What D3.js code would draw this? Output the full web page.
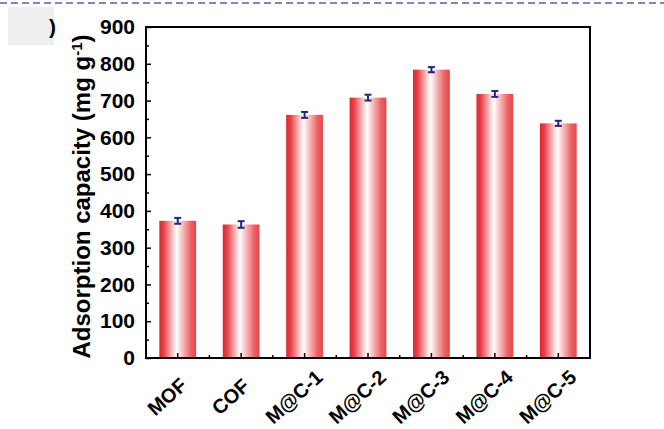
<!DOCTYPE html>
<html>
<head>
<meta charset="utf-8">
<script src="https://cdn.jsdelivr.net/npm/d3@7"></script>
<style>
  body { margin: 0; background: #fff; }
  svg { display: block; font-family: "Liberation Sans", Arial, sans-serif; }
</style>
</head>
<body>
<div id="chart"></div>
<script>
// data
var samples = ["MOF", "COF", "M@C-1", "M@C-2", "M@C-3", "M@C-4", "M@C-5"];
var capacity = [373, 363, 661, 708, 784, 718, 638];
var errors = [8, 9, 8, 8, 7, 8, 7];
var yTicks = [0, 100, 200, 300, 400, 500, 600, 700, 800, 900];
var yMinor = [50, 150, 250, 350, 450, 550, 650, 750, 850];

var width = 664, height = 429;
var margin = {left: 146, right: 74, top: 27, bottom: 71};

var svg = d3.select('#chart')
    .append('svg')
    .attr('width', width)
    .attr('height', height);

// bits of the page around the figure
svg.append('line')
    .attr('x1', 0).attr('x2', width)
    .attr('y1', 3).attr('y2', 3)
    .attr('stroke', '#5563a0')
    .attr('stroke-width', 1.5)
    .attr('stroke-dasharray', '7,4');
svg.append('rect')
    .attr('x', 8).attr('y', 7)
    .attr('width', 46).attr('height', 38)
    .attr('fill', '#eeeeee');
svg.append('text')
    .attr('x', 49).attr('y', 34)
    .attr('font-size', 21)
    .attr('font-weight', 'bold')
    .text(')');

var defs = svg.append('defs');
var grad = defs.append('linearGradient')
    .attr('id', 'barGrad')
    .attr('x1', 0).attr('x2', 1).attr('y1', 0).attr('y2', 0);
[[0, '#e2232b'], [0.12, '#e5424a'], [0.47, '#ffffff'], [0.86, '#ec6063'], [1, '#e6464b']]
    .forEach(function(s) {
        grad.append('stop').attr('offset', s[0]).attr('stop-color', s[1]);
    });

var x = d3.scaleBand()
    .domain(samples)
    .range([margin.left, width - margin.right])
    .paddingInner(0.42)
    .paddingOuter(0.21);

var y = d3.scaleLinear()
    .domain([0, 900])
    .range([height - margin.bottom, margin.top]);

var data = samples.map(function(s, i) {
    return {name: s, value: capacity[i], err: errors[i]};
});

// bars
svg.append('g')
    .selectAll('rect')
    .data(data)
    .enter()
    .append('rect')
    .attr('x', function(d) { return x(d.name); })
    .attr('y', function(d) { return y(d.value); })
    .attr('width', x.bandwidth())
    .attr('height', function(d) { return y(0) - y(d.value); })
    .attr('fill', 'url(#barGrad)');

// error bars
var eb = svg.append('g')
    .attr('stroke', '#1f2a7a')
    .attr('stroke-width', 2);
data.forEach(function(d) {
    var cx = x(d.name) + x.bandwidth() / 2;
    eb.append('line')
        .attr('x1', cx).attr('x2', cx)
        .attr('y1', y(d.value - d.err)).attr('y2', y(d.value + d.err));
    eb.append('line')
        .attr('x1', cx - 3.5).attr('x2', cx + 3.5)
        .attr('y1', y(d.value + d.err)).attr('y2', y(d.value + d.err));
    eb.append('line')
        .attr('x1', cx - 3.5).attr('x2', cx + 3.5)
        .attr('y1', y(d.value - d.err)).attr('y2', y(d.value - d.err));
});

// y axis, ticks pointing inwards
var yAxis = d3.axisLeft(y)
    .tickValues(yTicks)
    .tickSizeInner(-5)
    .tickSizeOuter(0)
    .tickPadding(11);
var gy = svg.append('g')
    .attr('transform', 'translate(' + margin.left + ',0)')
    .call(yAxis);
gy.select('.domain').remove();
gy.selectAll('line').attr('stroke', '#000').attr('stroke-width', 1.5);
gy.selectAll('text')
    .attr('font-size', 21)
    .attr('font-weight', 'bold')
    .attr('fill', '#000')
    .attr('font-family', '"Liberation Sans", Arial, sans-serif');

var gyMinor = svg.append('g')
    .attr('transform', 'translate(' + margin.left + ',0)')
    .call(d3.axisLeft(y).tickValues(yMinor).tickSizeInner(-3).tickSizeOuter(0).tickFormat(''));
gyMinor.select('.domain').remove();
gyMinor.selectAll('line').attr('stroke', '#000').attr('stroke-width', 1.5);

// x axis, ticks pointing up
var xAxis = d3.axisBottom(x)
    .tickSizeInner(-5)
    .tickSizeOuter(0)
    .tickFormat('');
var gx = svg.append('g')
    .attr('transform', 'translate(0,' + y(0) + ')')
    .call(xAxis);
gx.select('.domain').remove();
gx.selectAll('line').attr('stroke', '#000').attr('stroke-width', 1.5);

// minor x ticks between bars
svg.append('g')
    .selectAll('line')
    .data(samples.slice(0, -1))
    .enter()
    .append('line')
    .attr('x1', function(d) { return x(d) + x.bandwidth() / 2 + x.step() / 2; })
    .attr('x2', function(d) { return x(d) + x.bandwidth() / 2 + x.step() / 2; })
    .attr('y1', y(0))
    .attr('y2', y(0) - 3)
    .attr('stroke', '#000')
    .attr('stroke-width', 1.5);

// rotated category labels, one group per label
var labels = svg.append('g')
    .selectAll('g')
    .data(samples)
    .enter()
    .append('g')
    .attr('transform', function(d) {
        return 'translate(' + (x(d) + x.bandwidth() / 2 - 6) + ',' + (y(0) + 44) + ')';
    });
labels.append('text')
    .attr('transform', 'rotate(-42)')
    .attr('text-anchor', 'middle')
    .attr('font-size', 20)
    .attr('font-weight', 'bold')
    .text(function(d) { return d; });

// frame
svg.append('rect')
    .attr('x', margin.left)
    .attr('y', margin.top)
    .attr('width', width - margin.left - margin.right)
    .attr('height', y(0) - margin.top)
    .attr('fill', 'none')
    .attr('stroke', '#000')
    .attr('stroke-width', 2);

// y title
var title = svg.append('text')
    .attr('transform', 'translate(90,' + ((margin.top + y(0)) / 2 + 4) + ') rotate(-90)')
    .attr('text-anchor', 'middle')
    .attr('font-size', 24)
    .attr('font-weight', 'bold');
title.append('tspan').text('Adsorption capacity (mg g');
title.append('tspan').attr('baseline-shift', 'super').attr('font-size', 15).text('-1');
title.append('tspan').text(')');
</script>
</body>
</html>
